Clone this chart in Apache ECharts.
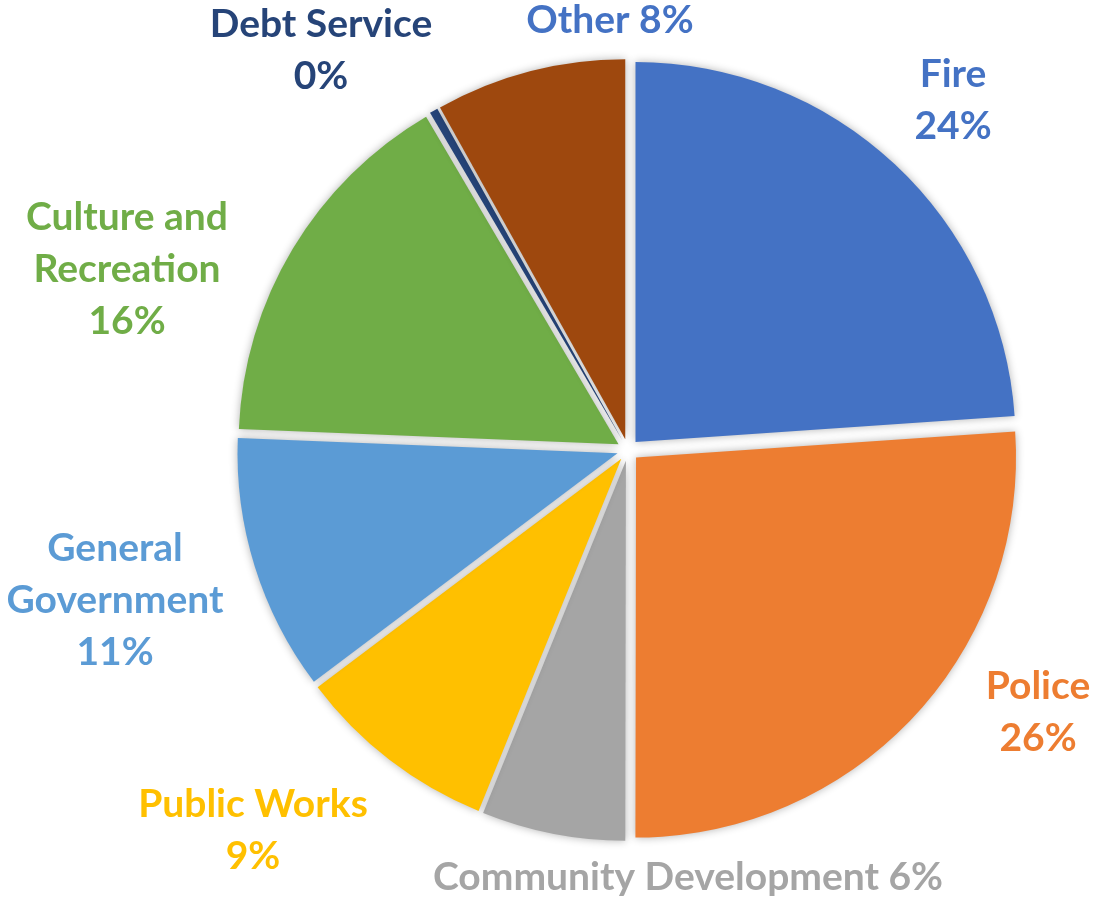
<!DOCTYPE html>
<html><head><meta charset="utf-8">
<script src="https://cdn.jsdelivr.net/npm/echarts@6/dist/echarts.min.js"></script>
<style>html,body{margin:0;padding:0;background:#fff}#chart{width:1094px;height:897px}</style>
</head><body><div id="chart"></div>
<script>
const categories = ['Fire','Police','Community Development','Public Works','General Government','Culture and Recreation','Debt Service','Other'];
const values = [23.9, 26.1, 6.1, 8.6, 10.9, 15.9, 0.35, 8.1];
const labelNames = ['Fire','Police','Community Development','Public Works','General\nGovernment','Culture and\nRecreation','Debt Service','Other'];
const labelSeparators = ['\n','\n',' ','\n','\n','\n','\n',' '];
const sliceColors = ['#4472C4','#ED7D31','#A5A5A5','#FFC000','#5B9BD5','#70AD47','#264478','#9E480E'];
const labelColors = ['#4472C4','#ED7D31','#A5A5A5','#FFC000','#5B9BD5','#70AD47','#264478','#4472C4'];
const labelAnchors = [[953,100],[1038,712],[688,877],[253,830],[115,600],[127,269],[321,50],[610,20]];

const total = values.reduce((a, b) => a + b, 0);
const chart = echarts.init(document.getElementById('chart'), null, {renderer:'canvas'});
const shadow = {shadowBlur: 8, shadowColor: 'rgba(0,0,0,0.3)'};
chart.setOption({
  animation: false,
  backgroundColor: '#ffffff',
  graphic: categories.map((c, i) => ({
    type: 'text',
    x: labelAnchors[i][0],
    y: labelAnchors[i][1],
    z: 10,
    silent: true,
    style: {
      text: labelNames[i] + labelSeparators[i] + Math.round(values[i] / total * 100) + '%',
      fill: labelColors[i],
      fontFamily: 'Lato',
      fontWeight: 'bold',
      fontSize: 39,
      lineHeight: 52,
      align: 'center',
      verticalAlign: 'middle'
    }
  })),
  series: [{
    type: 'pie',
    center: [628, 450],
    radius: 380,
    startAngle: 90,
    clockwise: true,
    selectedMode: 'multiple',
    selectedOffset: 11,
    emphasis: {disabled: true},
    itemStyle: Object.assign({borderWidth: 0}, shadow),
    select: {itemStyle: Object.assign({borderWidth: 0}, shadow)},
    label: {show: false},
    labelLine: {show: false},
    data: categories.map((c, i) => ({
      name: c,
      value: values[i],
      selected: true,
      itemStyle: {color: sliceColors[i]}
    }))
  }]
});
</script></body></html>
